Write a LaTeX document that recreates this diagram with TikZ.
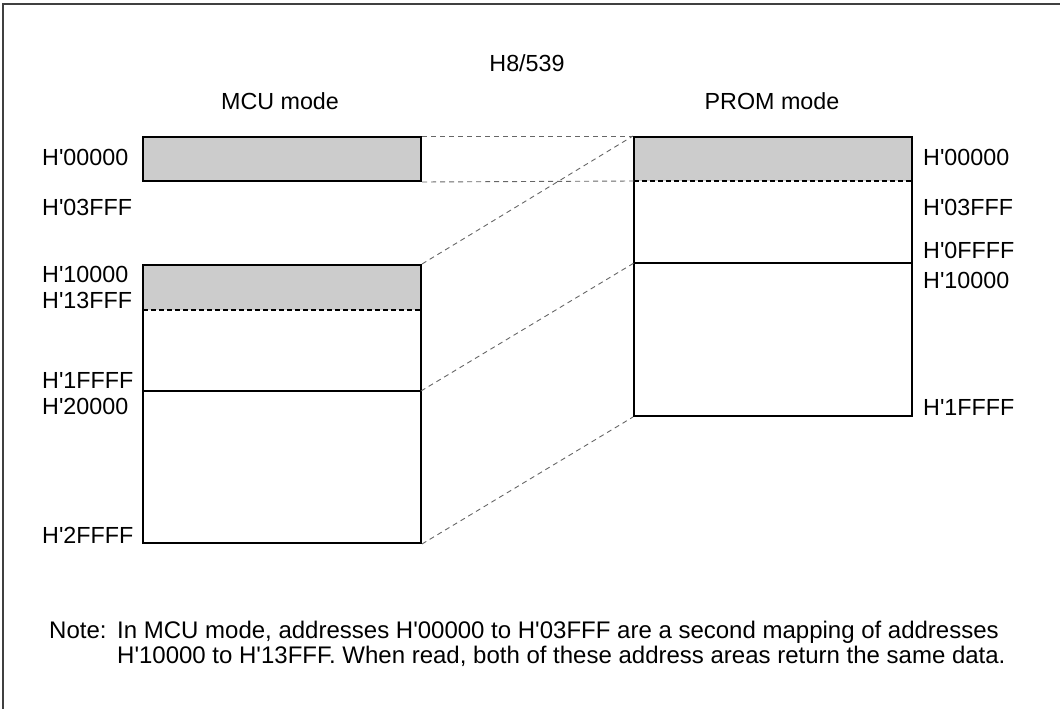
\documentclass[tikz,border=0pt]{standalone}
\usepackage{fontspec}
\setmainfont{Liberation Sans}[Ligatures=TeXOff]
\begin{document}
\begin{tikzpicture}[x=1pt,y=-1pt,
  lbl/.style={inner sep=0pt,font=\fontsize{23.3}{27}\selectfont},
  notetext/.style={inner sep=0pt,font=\fontsize{24}{26}\selectfont},
  membox/.style={draw,line width=2pt,inner sep=0pt,minimum width=278pt},
  grayfill/.style={fill=black!20},
  divdash/.style={line width=1.3pt,dash pattern=on 5pt off 3pt},
  divsolid/.style={line width=1.8pt},
  conn/.style={draw=black!60,line width=0.9pt,dash pattern=on 5pt off 4pt},
  frameline/.style={draw=black!75,line width=2pt}]
\useasboundingbox (0,0) rectangle (1060,709);
\draw[frameline] (3,709) -- (3,4) -- (1060,4);

% titles
\node[lbl,anchor=base] (title) at (527,71) {H8/539};
\node[lbl,anchor=base] (mcutitle) at (280,109) {MCU mode};
\node[lbl,anchor=base] (promtitle) at (772,109) {PROM mode};

% MCU boxes
\fill[grayfill] (143,137) rectangle (421,181);
\fill[grayfill] (143,265) rectangle (421,310);
\node[membox,minimum height=44pt] (mcuA) at (282,159) {};
\node[membox,minimum height=278pt] (mcuB) at (282,404) {};
\coordinate (mcuDiv) at (143,310);
\coordinate (mcuSplitL) at (143,391);
\coordinate (mcuSplit) at (421,391);
\draw[divdash] (mcuDiv) -- (mcuDiv -| mcuB.east);
\draw[divsolid] (mcuSplitL) -- (mcuSplit);

% PROM box
\fill[grayfill] (634,137) rectangle (912,181);
\node[membox,minimum height=279pt] (prom) at (773,276.5) {};
\coordinate (promDiv) at (634,181);
\coordinate (promSplit) at (634,263);
\draw[divdash] (promDiv) -- (promDiv -| prom.east);
\draw[divsolid] (promSplit) -- (promSplit -| prom.east);

% connectors
\draw[conn] (mcuA.north east) -- (prom.north west);
\draw[conn] (mcuA.south east) -- (promDiv);
\draw[conn] (mcuB.north east) -- (prom.north west);
\draw[conn] (mcuSplit) -- (promSplit);
\draw[conn] (mcuB.south east) -- (prom.south west);

% MCU labels
\node[lbl,anchor=base west] (m1) at (42,165) {H'00000};
\node[lbl,anchor=base west] (m2) at (42,215) {H'03FFF};
\node[lbl,anchor=base west] (m3) at (42,282) {H'10000};
\node[lbl,anchor=base west] (m4) at (42,308) {H'13FFF};
\node[lbl,anchor=base west] (m5) at (42,388) {H'1FFFF};
\node[lbl,anchor=base west] (m6) at (42,414) {H'20000};
\node[lbl,anchor=base west] (m7) at (42,543) {H'2FFFF};

% PROM labels
\node[lbl,anchor=base west] (p1) at (923,165) {H'00000};
\node[lbl,anchor=base west] (p2) at (923,215) {H'03FFF};
\node[lbl,anchor=base west] (p3) at (923,258) {H'0FFFF};
\node[lbl,anchor=base west] (p4) at (923,288) {H'10000};
\node[lbl,anchor=base west] (p5) at (923,415) {H'1FFFF};

% note
\node[notetext,anchor=base west] (notehead) at (49,638) {Note:};
\node[notetext,anchor=base west] (note1) at (117,638) {In MCU mode, addresses H'00000 to H'03FFF are a second mapping of addresses};
\node[notetext,anchor=base west] (note2) at (117,663) {H'10000 to H'13FFF. When read, both of these address areas return the same data.};
\end{tikzpicture}
\end{document}
